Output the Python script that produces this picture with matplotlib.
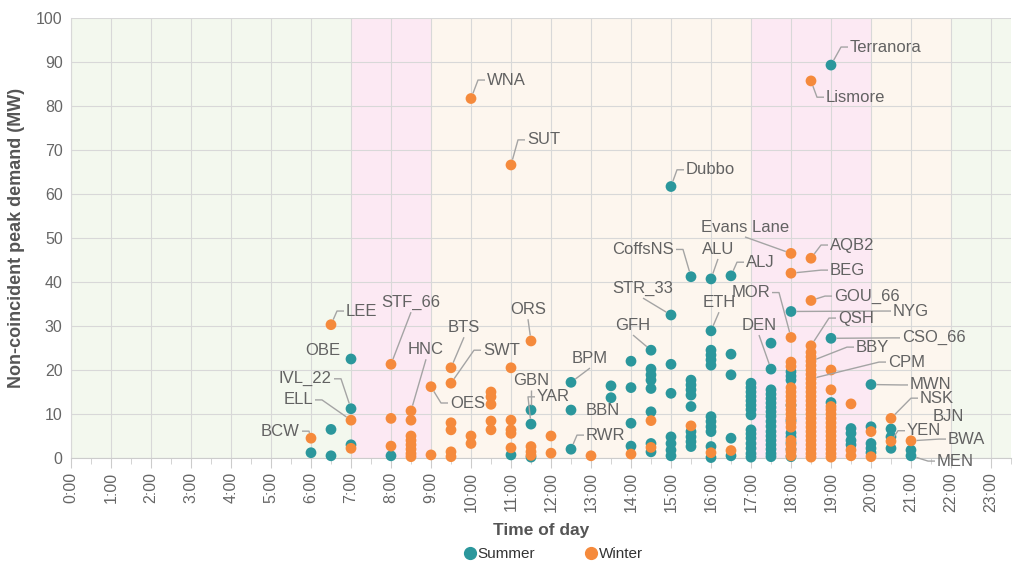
import matplotlib
matplotlib.use("Agg")
import matplotlib.pyplot as plt
from matplotlib.lines import Line2D

# ---------------- data ----------------
summer_time = [6.0,
               6.5, 6.5,
               7.0, 7.0, 7.0,
               8.0,
               11.0,
               11.5, 11.5, 11.5,
               12.5, 12.5, 12.5,
               13.5, 13.5,
               14.0, 14.0, 14.0, 14.0,
               14.5, 14.5, 14.5, 14.5, 14.5, 14.5, 14.5, 14.5,
               15.0, 15.0, 15.0, 15.0, 15.0, 15.0, 15.0, 15.0,
               15.5, 15.5, 15.5, 15.5, 15.5, 15.5, 15.5, 15.5, 15.5, 15.5,
               16.0, 16.0, 16.0, 16.0, 16.0, 16.0, 16.0, 16.0, 16.0, 16.0, 16.0, 16.0,
               16.5, 16.5, 16.5, 16.5, 16.5,
               17.0, 17.0, 17.0, 17.0, 17.0, 17.0, 17.0, 17.0, 17.0, 17.0, 17.0, 17.0, 17.0, 17.0, 17.0,
               17.5, 17.5, 17.5, 17.5, 17.5, 17.5, 17.5, 17.5, 17.5, 17.5, 17.5, 17.5, 17.5, 17.5, 17.5, 17.5, 17.5, 17.5,
               18.0, 18.0, 18.0, 18.0, 18.0, 18.0, 18.0, 18.0, 18.0, 18.0, 18.0,
               19.0, 19.0, 19.0,
               19.5, 19.5, 19.5, 19.5,
               20.0, 20.0, 20.0, 20.0, 20.0,
               20.5, 20.5, 20.5,
               21.0, 21.0]
summer_mw = [1.2,
             6.5, 0.5,
             22.5, 11.2, 3.0,
             0.5,
             0.7,
             10.9, 7.7, 0.2,
             17.2, 10.9, 2.0,
             16.4, 13.7,
             22.0, 16.0, 7.9, 2.7,
             24.5, 20.2, 18.9, 17.7, 15.8, 10.5, 3.3, 1.4,
             61.7, 32.5, 21.3, 14.7, 4.8, 3.3, 1.8, 0.5,
             41.2, 17.7, 16.6, 15.5, 14.3, 11.7, 6.0, 4.8, 3.7, 2.6,
             40.7, 28.9, 24.5, 23.4, 22.3, 21.1, 9.4, 8.3, 7.1, 6.0, 2.6, 0.1,
             41.4, 23.6, 18.9, 4.5, 0.5,
             17.0, 16.0, 15.0, 14.0, 13.0, 12.0, 11.0, 9.8, 6.4, 5.5, 4.5, 3.3, 2.2, 1.0, 0.2,
             26.1, 20.2, 15.5, 14.5, 13.5, 12.5, 11.5, 10.5, 9.5, 8.3, 7.2, 6.0, 5.0, 4.0, 3.0, 2.0, 1.0, 0.3,
             33.3, 19.6, 18.6, 17.7, 12.0, 8.5, 5.7, 4.8, 3.4, 2.0, 0.3,
             89.3, 27.2, 12.6,
             6.7, 5.6, 4.0, 3.0,
             16.7, 7.1, 3.3, 2.2, 1.2,
             6.6, 4.8, 2.2,
             1.8, 0.5]

winter_time = [6.0,
               6.5,
               7.0, 7.0,
               8.0, 8.0, 8.0,
               8.5, 8.5, 8.5, 8.5, 8.5, 8.5, 8.5, 8.5,
               9.0, 9.0,
               9.5, 9.5, 9.5, 9.5, 9.5, 9.5,
               10.0, 10.0, 10.0,
               10.5, 10.5, 10.5, 10.5, 10.5,
               11.0, 11.0, 11.0, 11.0, 11.0, 11.0,
               11.5, 11.5, 11.5, 11.5,
               12.0, 12.0,
               13.0,
               14.0,
               14.5, 14.5,
               15.5,
               16.0,
               16.5,
               18.0, 18.0, 18.0, 18.0, 18.0, 18.0, 18.0, 18.0, 18.0, 18.0,
               18.0, 18.0, 18.0, 18.0, 18.0, 18.0, 18.0, 18.0, 18.0, 18.0,
               18.5, 18.5, 18.5, 18.5, 18.5, 18.5, 18.5, 18.5, 18.5, 18.5,
               18.5, 18.5, 18.5, 18.5, 18.5, 18.5, 18.5, 18.5, 18.5, 18.5,
               18.5, 18.5, 18.5, 18.5, 18.5, 18.5, 18.5, 18.5, 18.5,
               19.0, 19.0, 19.0, 19.0, 19.0, 19.0, 19.0, 19.0, 19.0, 19.0,
               19.0, 19.0, 19.0, 19.0, 19.0,
               19.5, 19.5, 19.5,
               20.0, 20.0,
               20.5, 20.5,
               21.0]
winter_mw = [4.5,
             30.3,
             8.6, 2.2,
             21.3, 9.0, 2.7,
             10.7, 8.6, 5.0, 4.0, 3.0, 2.0, 1.0, 0.3,
             16.2, 0.7,
             20.5, 17.0, 8.0, 6.4, 1.4, 0.3,
             81.7, 5.0, 3.3,
             15.0, 13.9, 12.2, 8.4, 6.4,
             66.6, 20.5, 8.6, 6.4, 5.6, 2.3,
             26.6, 2.6, 1.4, 0.6,
             5.0, 1.1,
             0.5,
             0.9,
             8.5, 2.4,
             7.3,
             1.2,
             1.7,
             46.5, 42.0, 27.4, 21.8, 20.8, 16.0, 15.0, 14.0, 13.0, 12.0,
             11.0, 10.0, 9.0, 8.0, 7.0, 4.0, 3.0, 2.0, 1.4, 0.5,
             85.7, 45.4, 35.8, 25.5, 24.0, 23.0, 22.0, 21.0, 20.0, 19.0,
             18.0, 17.0, 16.0, 15.0, 14.0, 13.0, 12.0, 11.0, 10.0, 9.0,
             8.0, 7.0, 6.0, 5.0, 4.0, 3.0, 2.0, 1.0, 0.2,
             20.0, 15.5, 11.7, 11.0, 10.0, 9.0, 8.0, 7.0, 6.0, 5.0,
             4.0, 3.0, 2.0, 1.0, 0.2,
             12.3, 1.8, 0.5,
             6.0, 0.3,
             9.0, 3.8,
             3.9]

# labelled substations: name, time, MW
label_names = ["Terranora", "Lismore", "WNA", "SUT", "Dubbo", "Evans Lane", "AQB2", "BEG",
               "CoffsNS", "ALU", "ALJ", "STR_33", "MOR", "ETH", "GOU_66", "NYG", "QSH",
               "DEN", "CSO_66", "GFH", "ORS", "LEE", "STF_66", "BTS", "OBE", "HNC", "SWT",
               "BBY", "CPM", "BPM", "IVL_22", "OES", "ELL", "GBN", "YAR", "BBN", "MWN",
               "NSK", "BCW", "RWR", "BJN", "YEN", "BWA", "MEN"]
label_time = [19.0, 18.5, 10.0, 11.0, 15.0, 18.0, 18.5, 18.0,
              15.5, 16.0, 16.5, 15.0, 18.0, 16.0, 18.5, 18.0, 18.5,
              17.5, 19.0, 14.5, 11.5, 6.5, 8.0, 9.5, 7.0, 8.5, 9.5,
              18.5, 18.5, 12.5, 7.0, 9.0, 7.0, 11.5, 11.5, 12.5, 20.0,
              20.5, 6.0, 12.5, 20.5, 20.5, 21.0, 21.0]
label_mw = [89.3, 85.7, 81.7, 66.6, 61.7, 46.5, 45.4, 42.0,
            41.2, 40.7, 41.4, 32.5, 27.4, 28.9, 35.8, 33.3, 25.5,
            20.2, 27.2, 24.5, 26.6, 30.3, 21.3, 20.5, 22.5, 10.7, 17.0,
            22.0, 18.0, 17.2, 11.2, 16.2, 8.6, 10.9, 7.7, 10.9, 16.7,
            9.0, 4.5, 2.0, 6.6, 3.8, 3.9, 0.5]

tick_labels = ["0:00", "1:00", "2:00", "3:00", "4:00", "5:00", "6:00", "7:00",
               "8:00", "9:00", "10:00", "11:00", "12:00", "13:00", "14:00", "15:00",
               "16:00", "17:00", "18:00", "19:00", "20:00", "21:00", "22:00", "23:00"]

# background periods (start, end, colour)
bands = [(0, 7, "#f3f8ee"), (7, 9, "#fce9f3"), (9, 17, "#fdf6ee"),
         (17, 20, "#fce9f3"), (20, 22, "#fdf6ee"), (22, 24, "#f3f8ee")]

# ------------- label layout (text position, mode) -------------
# mode: 'l' text left-aligned, connector from its left; 'r' right-aligned, connector from right;
#       'b' centred, connector from below; 'nl'/'nr' no connector
label_layout = {
    "Terranora": (19.475, 93.4, "l"), "Lismore": (18.875, 82.0, "l"),
    "WNA": (10.4, 85.9, "l"), "SUT": (11.4, 72.3, "l"), "Dubbo": (15.375, 65.5, "l"),
    "Evans Lane": (16.85, 52.4, "b"), "AQB2": (18.975, 48.4, "l"), "BEG": (18.975, 42.7, "l"),
    "CoffsNS": (15.075, 47.4, "r"), "ALU": (16.175, 47.4, "b"), "ALJ": (16.875, 44.5, "l"),
    "STR_33": (14.3, 38.5, "b"), "MOR": (17.475, 37.6, "r"), "ETH": (16.2, 35.3, "b"),
    "GOU_66": (19.075, 36.8, "l"), "NYG": (20.55, 33.4, "l"), "QSH": (19.175, 31.8, "l"),
    "DEN": (17.2, 30.1, "b"), "CSO_66": (20.775, 27.3, "l"), "GFH": (14.05, 30.1, "b"),
    "ORS": (11.425, 33.7, "b"), "LEE": (6.875, 33.4, "l"), "STF_66": (8.5, 35.3, "b"),
    "BTS": (9.825, 29.6, "b"), "OBE": (6.725, 24.5, "nr"), "HNC": (8.875, 24.6, "b"),
    "SWT": (10.3, 24.5, "l"), "BBY": (19.625, 25.2, "l"), "CPM": (20.425, 21.8, "l"),
    "BPM": (12.975, 22.6, "b"), "IVL_22": (6.525, 18.0, "r"), "OES": (9.475, 12.5, "l"),
    "ELL": (6.05, 13.2, "r"), "GBN": (11.5, 17.6, "b"), "YAR": (11.65, 13.9, "l"),
    "BBN": (12.875, 10.7, "nl"), "MWN": (20.975, 16.6, "l"), "NSK": (21.225, 13.6, "l"),
    "BCW": (5.725, 6.1, "r"), "RWR": (12.875, 5.2, "l"), "BJN": (21.55, 9.5, "nl"),
    "YEN": (20.9, 6.2, "l"), "BWA": (21.925, 4.3, "l"), "MEN": (21.65, -0.7, "l"),
}

# ---------------- style ----------------
teal = "#2b979c"
orange = "#f58a3c"
label_col = "#626262"
line_col = "#a4a4a4"
grid_col = "#d8d8d8"
lab_fs = 12

plt.rcParams["font.family"] = ["Liberation Sans", "DejaVu Sans"]

fig = plt.figure(figsize=(10.2, 5.61), dpi=100)
ax = fig.add_axes([71 / 1020, 1 - 458 / 561, 940 / 1020, 440 / 561])
xmin, xmax, ymin, ymax = 0, 23.5, 0, 100
ax.set_xlim(xmin, xmax)
ax.set_ylim(ymin, ymax)

for s, e, c in bands:
    ax.axvspan(s, e, color=c, zorder=0, lw=0)

ax.set_xticks(range(24))
ax.set_xticklabels(tick_labels, rotation=90, fontsize=11.5, color="#666666")
ax.set_xticks([h + 0.5 for h in range(24)], minor=True)
ax.set_yticks(range(0, 101, 10))
ax.tick_params(axis="y", length=0, labelsize=11.5, labelcolor="#666666", pad=6)
ax.tick_params(axis="x", which="major", length=7, color="#cccccc", pad=3)
ax.tick_params(axis="x", which="minor", length=4, color="#cccccc")
ax.grid(True, which="major", color=grid_col, lw=0.8, zorder=1)
ax.set_axisbelow(True)
for sp in ["top", "right"]:
    ax.spines[sp].set_visible(False)
ax.spines["left"].set_color(grid_col)
ax.spines["bottom"].set_color("#cccccc")

ax.set_xlabel("Time of day", fontsize=12.5, fontweight="bold", color="#555555", labelpad=8)
ax.set_ylabel("Non-coincident peak demand (MW)", fontsize=13, fontweight="bold",
              color="#555555", labelpad=8)

ax.scatter(summer_time, summer_mw, s=60, color=teal, edgecolors="none", zorder=3, clip_on=False)
ax.scatter(winter_time, winter_mw, s=60, color=orange, edgecolors="none", zorder=4, clip_on=False)

# connectors / labels
sx = 940 / (xmax - xmin)   # px per hour
sy = 440 / (ymax - ymin)   # px per MW
for name, px, py in zip(label_names, label_time, label_mw):
    tx, ty, mode = label_layout[name]
    if mode == "l":
        ax.text(tx, ty, name, ha="left", va="center", fontsize=lab_fs, color=label_col, zorder=6)
        p0 = (tx - 2 / sx, ty)
        p1 = (tx - 9 / sx, ty)
    elif mode == "r":
        ax.text(tx, ty, name, ha="right", va="center", fontsize=lab_fs, color=label_col, zorder=6)
        p0 = (tx + 2 / sx, ty)
        p1 = (tx + 9 / sx, ty)
    elif mode == "b":
        ax.text(tx, ty, name, ha="center", va="center", fontsize=lab_fs, color=label_col, zorder=6)
        p0 = (tx, ty - 9.5 / sy)
        p1 = p0
    else:
        ax.text(tx, ty, name, ha="right" if mode == "nr" else "left", va="center",
                fontsize=lab_fs, color=label_col, zorder=6)
        continue
    # shorten end near point
    dxp = (px - p1[0]) * sx
    dyp = (py - p1[1]) * sy
    dist = (dxp ** 2 + dyp ** 2) ** 0.5
    r = 5.5
    if dist > r:
        ex = px - dxp / dist * r / sx
        ey = py - dyp / dist * r / sy
    else:
        ex, ey = p1
    ax.plot([p0[0], p1[0], ex], [p0[1], p1[1], ey], color=line_col, lw=1.0, zorder=5,
            clip_on=False, solid_capstyle="butt")

handles = [Line2D([], [], marker="o", ls="", color=teal, markersize=8.5, label="Summer"),
           Line2D([], [], marker="o", ls="", color=orange, markersize=8.5, label="Winter")]
fig.legend(handles=handles, loc="center", bbox_to_anchor=(553 / 1020, 1 - 554 / 561),
           ncol=2, frameon=False, fontsize=11, handletextpad=0.05, handlelength=0.9,
           columnspacing=3.2, labelcolor="#333333", borderpad=0)

fig.savefig("out.png", dpi=100)
